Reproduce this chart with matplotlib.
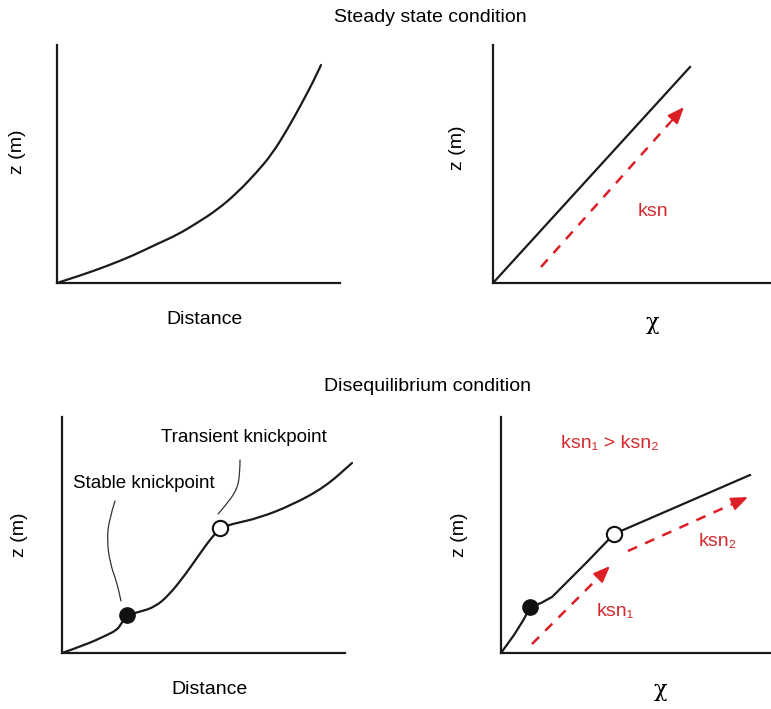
import matplotlib.pyplot as plt
from matplotlib.path import Path
from matplotlib.patches import PathPatch

plt.rcParams['font.family'] = ['Liberation Sans', 'DejaVu Sans']

RED = '#dc1f26'
TXT_RED = '#d42a2e'
INK = '#1a1a1a'
W, H = 771, 709

# steady state, z vs distance
ss_dist = [0, 25, 50, 75, 100, 120, 140, 160, 180, 200, 215, 230, 245, 257, 264]
ss_z = [0, 8, 17, 27, 39, 48, 60, 73, 90, 111, 129, 153, 180, 203, 218]
# steady state, z vs chi
ss_chi = [0, 197]
ss_chi_z = [0, 216]
ss_arrow = [(48, 16), (191, 176)]

# disequilibrium, z vs distance
dq_dist = [0, 23, 43, 55, 59, 65, 77, 93, 107, 123, 137, 147, 153, 158,
           170, 197, 230, 263, 290]
dq_z = [0, 8, 17, 23, 29, 38, 41, 46, 58, 78, 98, 112, 119, 125,
        129, 135, 148, 166, 190]
stable_kp = (65, 38)
transient_kp = (158, 125)
stable_leader_x = [53, 47, 45, 48, 55, 59]
stable_leader_y = [152, 133, 113, 90, 70, 52]
transient_leader_x = [178, 178, 175, 163, 156]
transient_leader_y = [193, 180, 163, 147, 139]

# disequilibrium, z vs chi
dq_chi = [0, 13, 23, 29, 40, 51, 66, 86, 113, 249]
dq_chi_z = [0, 18, 34, 46, 50, 56, 71, 91, 119, 178]
dq_kp1 = (29, 46)
dq_kp2 = (113, 119)
ksn1_arrow = [(31, 9), (109, 87)]
ksn2_arrow = [(127, 102), (247, 156)]


def make_ax(left, top, right, bottom):
    ax = fig.add_axes([left / W, 1 - bottom / H, (right - left) / W, (bottom - top) / H])
    ax.set_xlim(0, right - left)
    ax.set_ylim(0, bottom - top)
    for s in ['top', 'right']:
        ax.spines[s].set_visible(False)
    for s in ['left', 'bottom']:
        ax.spines[s].set_linewidth(1.6)
        ax.spines[s].set_color(INK)
    ax.set_xticks([])
    ax.set_yticks([])
    return ax


def smooth_line(ax, xs, ys, **kw):
    # quadratic bezier through midpoints, read points act as control points
    pts = list(zip(xs, ys))
    verts = [pts[0]]
    codes = [Path.MOVETO]
    for i in range(1, len(pts) - 1):
        mid = ((pts[i][0] + pts[i + 1][0]) / 2, (pts[i][1] + pts[i + 1][1]) / 2)
        verts += [pts[i], mid]
        codes += [Path.CURVE3, Path.CURVE3]
    verts.append(pts[-1])
    codes.append(Path.LINETO)
    ax.add_patch(PathPatch(Path(verts, codes), fill=False, capstyle='round', **kw))


def red_arrow(ax, p0, p1):
    x0, y0 = p0
    x1, y1 = p1
    f = 0.9
    xm, ym = x0 + (x1 - x0) * f, y0 + (y1 - y0) * f
    ax.plot([x0, xm], [y0, ym], color=RED, lw=1.8, ls=(0, (4, 3.5)))
    ax.annotate('', xy=(x1, y1), xytext=(xm, ym),
                arrowprops=dict(arrowstyle='-|>,head_length=1.0,head_width=0.4',
                                color=RED, lw=1.5, shrinkA=0, shrinkB=0))


fig = plt.figure(figsize=(W / 100, H / 100), dpi=100)

fig.text(430 / W, 1 - 18 / H, 'Steady state condition', ha='center', va='center', fontsize=14)
fig.text(428 / W, 1 - 386 / H, 'Disequilibrium condition', ha='center', va='center', fontsize=14)

# top left
ax1 = make_ax(57, 45, 340, 283)
smooth_line(ax1, ss_dist, ss_z, edgecolor=INK, lw=1.6)
fig.text(18 / W, 1 - 152 / H, 'z (m)', rotation=90, ha='center', va='center', fontsize=14)
fig.text(205 / W, 1 - 319 / H, 'Distance', ha='center', va='center', fontsize=14)

# top right
ax2 = make_ax(493, 45, 771, 283)
ax2.plot(ss_chi, ss_chi_z, color=INK, lw=1.6)
red_arrow(ax2, *ss_arrow)
ax2.text(160, 72, 'ksn', color=TXT_RED, fontsize=14, ha='center', va='center')
fig.text(458 / W, 1 - 148 / H, 'z (m)', rotation=90, ha='center', va='center', fontsize=14)
fig.text(652 / W, 1 - 323 / H, 'χ', ha='center', va='center', fontsize=16, family='DejaVu Serif')

# bottom left
ax3 = make_ax(62, 417, 345, 653)
smooth_line(ax3, dq_dist, dq_z, edgecolor=INK, lw=1.6, clip_on=False)
ax3.plot(*stable_kp, 'o', ms=11, color='#111111', clip_on=False)
ax3.plot(*transient_kp, 'o', ms=11, mfc='white', mec='#111111', mew=1.5, clip_on=False)
smooth_line(ax3, stable_leader_x, stable_leader_y, edgecolor='#333333', lw=0.9)
smooth_line(ax3, transient_leader_x, transient_leader_y, edgecolor='#333333', lw=0.9)
ax3.text(144 - 62, 653 - 483, 'Stable knickpoint', ha='center', va='center', fontsize=13.5)
ax3.text(244 - 62, 653 - 438, 'Transient knickpoint', ha='center', va='center', fontsize=13.5)
fig.text(20 / W, 1 - 535 / H, 'z (m)', rotation=90, ha='center', va='center', fontsize=14)
fig.text(210 / W, 1 - 689 / H, 'Distance', ha='center', va='center', fontsize=14)

# bottom right
ax4 = make_ax(501, 417, 771, 653)
ax4.plot(dq_chi, dq_chi_z, color=INK, lw=1.6)
ax4.plot(*dq_kp1, 'o', ms=11, color='#111111')
ax4.plot(*dq_kp2, 'o', ms=11, mfc='white', mec='#111111', mew=1.5)
red_arrow(ax4, *ksn1_arrow)
red_arrow(ax4, *ksn2_arrow)
ax4.text(114, 41, 'ksn₁', color=TXT_RED, fontsize=14, ha='center', va='center')
ax4.text(217, 111, 'ksn₂', color=TXT_RED, fontsize=14, ha='center', va='center')
ax4.text(109, 209, 'ksn₁ > ksn₂', color=TXT_RED, fontsize=14, ha='center', va='center')
fig.text(460 / W, 1 - 535 / H, 'z (m)', rotation=90, ha='center', va='center', fontsize=14)
fig.text(660 / W, 1 - 690 / H, 'χ', ha='center', va='center', fontsize=16, family='DejaVu Serif')

fig.savefig('out.png', dpi=100)
